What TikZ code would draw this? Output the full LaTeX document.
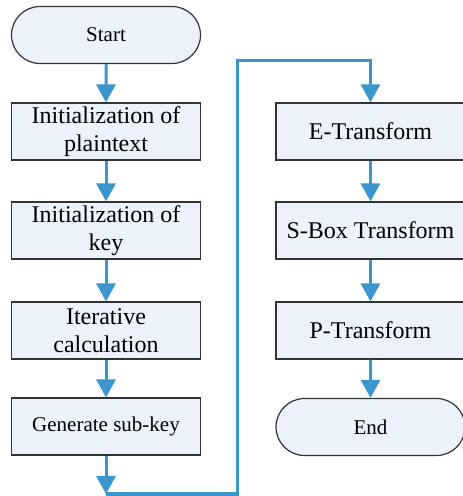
\documentclass[tikz,border=0pt]{standalone}
\usepackage{fontspec}
\setmainfont{Liberation Serif}
\usepackage{tikz}
\usetikzlibrary{arrows.meta,shapes.misc}

\definecolor{boxfill}{HTML}{EBF2FB}
\definecolor{flowblue}{HTML}{3C96CE}
\definecolor{edge}{HTML}{333333}

\begin{document}
\begin{tikzpicture}[x=1pt,y=1pt,
		box/.style={draw=edge,line width=1.2pt,fill=boxfill,minimum width=189pt,minimum height=57pt,
			inner sep=0pt,align=center,font=\fontsize{24}{28.5}\selectfont},
		term/.style={box,rounded rectangle,font=\fontsize{21}{24}\selectfont},
		link/.style={flowblue,line width=3pt},
		flow/.style={link,-{Triangle[width=19pt,length=18pt]}}]
				\useasboundingbox (0,0) rectangle (463,496);
				% left column
				\node[term] (start) at (106,461) {Start};
				\node[box] (plain) at (106,364.5) {Initialization of\\plaintext};
				\node[box] (key) at (106,265.5) {Initialization of\\key};
				\node[box] (iter) at (106,165.5) {Iterative\\calculation};
				\node[box,font=\fontsize{21}{24}\selectfont] (sub) at (106,69.5) {Generate sub-key};
				% right column
				\node[box] (et) at (370.5,364.5) {E-Transform};
				\node[box] (sbox) at (370.5,265.5) {S-Box Transform};
				\node[box] (pt) at (370.5,165.5) {P-Transform};
				\node[term] (end) at (370.5,69) {End};
				\coordinate (turn) at (106,2);
				\coordinate (up) at (237,435);
				\draw[flow] (start) -- (plain);
				\draw[flow] (plain) -- (key);
				\draw[flow] (key) -- (iter);
				\draw[flow] (iter) -- (sub);
				\draw[flow] (sub) -- (turn);
				\draw[flow] (turn) -| (up) -| (et.north);
				\draw[flow] (et) -- (sbox);
				\draw[flow] (sbox) -- (pt);
				\draw[flow] (pt) -- (end);
			\end{tikzpicture}
\end{document}
